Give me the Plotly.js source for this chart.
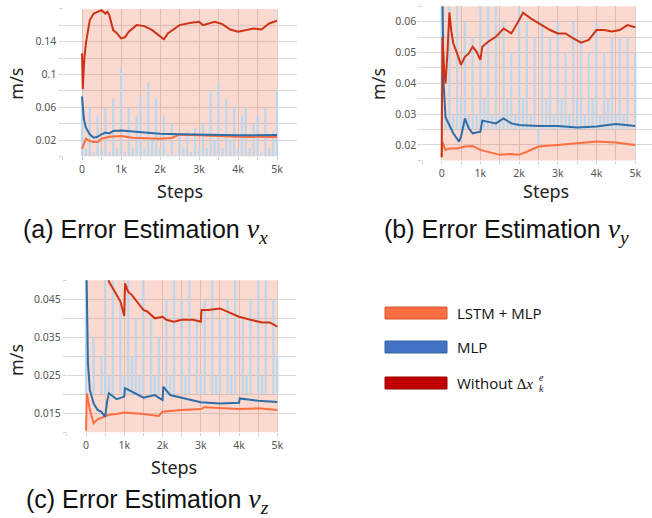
<!DOCTYPE html>
<html>
<head>
<meta charset="utf-8">
<script src="https://cdn.plot.ly/plotly-3.0.1.min.js"></script>
<style>html,body{margin:0;padding:0;background:#fff;}#chart{width:652px;height:518px;}</style>
</head>
<body>
<div id="chart"></div>
<script>
// ---------- data ----------
var seriesNames = ['LSTM + MLP', 'MLP', 'Without Δx'];
var xTickVals = [0, 1000, 2000, 3000, 4000, 5000];
var xTickText = ['0', '1k', '2k', '3k', '4k', '5k'];
var xGridVals = [-500, 500, 1500, 2500, 3500, 4500];

var aYTickVals = [0.02, 0.06, 0.1, 0.14];
var aYGridVals = [0, 0.04, 0.08, 0.12, 0.16, 0.18];
var bYTickVals = [0.02, 0.03, 0.04, 0.05, 0.06];
var bYGridVals = [0.015, 0.025, 0.035, 0.045, 0.055, 0.065];
var cYTickVals = [0.015, 0.025, 0.035, 0.045];
var cYGridVals = [0.01, 0.02, 0.03, 0.04, 0.05];

// raw (unsmoothed) envelope of the runs, shown as pale background
var rawSpanX = [0, 5000];
var aRawTop = [0.2, 0.2];
var bRawTop = [0.07, 0.07];
var cRawTop = [0.055, 0.055];

// raw MLP samples (pale blue streaks): bottom and top of each streak
var rawX = [0,100,200,300,400,500,600,700,800,900,1000,1100,1200,1300,1400,1500,1600,1700,1800,1900,2000,
            2100,2200,2300,2400,2500,2600,2700,2800,2900,3000,3100,3200,3300,3400,3500,3600,3700,3800,3900,4000,
            4100,4200,4300,4400,4500,4600,4700,4800,4900,5000];
var aMlpRawLow = 0;
var aMlpRaw = [0.07,0.01,0.06,0.005,0.05,0.01,0.06,0.005,0.07,0.01,0.11,0.005,0.06,0.01,0.05,0.075,0.01,0.09,0.02,0.07,0.01,
               0.05,0.003,0.04,0.002,0.03,0.01,0.03,0.005,0.035,0.01,0.04,0.01,0.08,0.02,0.09,0.01,0.07,0.02,0.06,0.01,
               0.05,0.06,0.01,0.04,0.05,0.005,0.06,0.01,0.03,0.08];
var bMlpRawLow = 0.025;
var bMlpRaw = [0.065,0.03,0.065,0.03,0.065,0.035,0.06,0.03,0.055,0.03,0.065,0.035,0.065,0.03,0.065,0.03,0.06,0.035,0.05,0.03,0.065,
               0.035,0.06,0.03,0.055,0.02,0.06,0.035,0.055,0.03,0.06,0.035,0.05,0.03,0.06,0.035,0.055,0.03,0.05,0.035,0.06,
               0.03,0.05,0.035,0.055,0.03,0.055,0.03,0.055,0.025,0.05];
var cMlpRawLow = 0.02;
var cMlpRaw = [0.05,0.02,0.035,0.02,0.03,0.05,0.025,0.05,0.02,0.045,0.025,0.05,0.03,0.04,0.025,0.05,0.02,0.04,0.025,0.035,0.02,
               0.045,0.025,0.05,0.02,0.045,0.025,0.05,0.02,0.04,0.025,0.045,0.02,0.05,0.025,0.04,0.02,0.045,0.025,0.05,0.02,
               0.04,0.025,0.045,0.02,0.05,0.025,0.05,0.02,0.045,0.03];

// (a) v_x smoothed curves
var aLstmX = [0,50,100,200,300,400,500,700,1000,1300,1600,2000,2300,2500,3000,3500,4000,5000];
var aLstm  = [0.009,0.0168,0.0216,0.0188,0.0176,0.0176,0.0216,0.024,0.0248,0.0228,0.022,0.0216,0.0224,0.0265,0.0257,0.0249,0.024,0.0236];
var aMlpX  = [0,50,100,200,300,400,500,600,700,800,1000,1200,1500,2000,2500,3000,4000,5000];
var aMlp   = [0.0733,0.045,0.035,0.027,0.0228,0.024,0.027,0.029,0.028,0.031,0.0317,0.031,0.0297,0.0277,0.027,0.0265,0.0257,0.026];
var aWoX   = [0,20,60,100,200,300,400,500,600,650,700,800,900,1000,1100,1200,1400,1600,1800,2000,2100,2200,2500,2800,3000,3100,3400,3600,3800,4000,4200,4400,4600,4700,4800,5000];
var aWo    = [0.126,0.082,0.12,0.138,0.1663,0.1743,0.1764,0.1784,0.1743,0.1764,0.1723,0.1541,0.1501,0.144,0.1453,0.1521,0.1602,0.159,0.1541,0.1461,0.1428,0.1501,0.1602,0.163,0.1642,0.1602,0.1642,0.1614,0.1549,0.1521,0.1541,0.1562,0.1549,0.1582,0.1622,0.1655];

// (b) v_y smoothed curves
var bLstmX = [0,20,50,100,200,400,600,800,1000,1200,1500,1800,2000,2200,2500,3000,3500,4000,4500,5000];
var bLstm  = [0.0162,0.021,0.02,0.0184,0.0189,0.0189,0.0195,0.0197,0.0184,0.0178,0.0168,0.0171,0.0168,0.0178,0.0195,0.02,0.0205,0.0211,0.0208,0.02];
var bMlpX  = [0,50,100,200,300,450,500,600,700,800,1000,1050,1200,1400,1600,1800,2000,2500,3000,3500,4000,4500,5000];
var bMlp   = [0.09,0.04,0.029,0.0265,0.0238,0.0211,0.0227,0.0286,0.0254,0.0238,0.0243,0.0279,0.0276,0.027,0.0286,0.027,0.0265,0.0262,0.0262,0.0257,0.026,0.0268,0.0262];
var bWoX   = [0,20,60,100,150,200,250,300,400,500,600,700,800,900,1000,1050,1200,1400,1600,1800,2000,2100,2300,2600,2800,3000,3200,3400,3600,3800,4000,4200,4400,4600,4800,5000];
var bWo    = [0.016,0.055,0.045,0.04,0.05,0.063,0.057,0.053,0.0497,0.046,0.0486,0.0497,0.0519,0.0503,0.0476,0.0519,0.0535,0.0551,0.0578,0.0562,0.0605,0.0629,0.0611,0.0589,0.0573,0.0562,0.0562,0.0546,0.0532,0.0541,0.0573,0.0573,0.0568,0.0573,0.0589,0.0582];

// (c) v_z smoothed curves
var cLstmX = [0,20,100,200,300,500,600,800,1000,1500,1900,2000,2500,3000,3100,4000,4500,5000];
var cLstm  = [0.0105,0.0202,0.0159,0.0124,0.0134,0.0141,0.0146,0.0148,0.0152,0.0148,0.0143,0.0154,0.0159,0.0161,0.0166,0.0161,0.0163,0.0159];
var cMlpX  = [0,20,50,100,200,300,400,500,550,600,700,800,1000,1020,1200,1500,1800,2000,2020,2200,2500,3000,3500,4000,4020,4500,5000];
var cMlp   = [0.06,0.045,0.0282,0.0211,0.0176,0.0159,0.0154,0.0141,0.018,0.0203,0.0194,0.0187,0.0194,0.0216,0.0207,0.0191,0.0198,0.0185,0.022,0.0198,0.0191,0.0179,0.0176,0.0178,0.0189,0.0183,0.018];
var cWoX   = [500,600,700,800,900,1000,1020,1100,1200,1400,1500,1600,1800,2000,2100,2300,2500,2800,3000,3020,3200,3500,3700,4000,4300,4600,4800,5000];
var cWo    = [0.056,0.0496,0.0479,0.0461,0.0444,0.0406,0.0492,0.047,0.0461,0.0435,0.0422,0.0418,0.04,0.0404,0.0396,0.0391,0.0396,0.0396,0.0391,0.0422,0.0422,0.0426,0.0418,0.0404,0.0396,0.0389,0.0389,0.0378];

// ---------- styles ----------
var colLstm = '#ff6e40';
var colMlp = '#2e6da6';
var colWo = '#cf3316';
var pinkFill = 'rgba(240,140,115,0.33)';
var blueRaw = 'rgba(180,215,238,0.9)';

// vertical streak segments built from the raw arrays
function streaks(xs, low, tops) {
  var sx = [], sy = [];
  for (var i = 0; i < xs.length; i++) {
    sx.push(xs[i], xs[i], null);
    sy.push(low, tops[i], null);
  }
  return {x: sx, y: sy};
}

function panelTraces(xa, ya, rawTop, rawLow, mlpRaw, lx, ly, mx, my, wx, wy) {
  var s = streaks(rawX, rawLow, mlpRaw);
  return [
    {x: rawSpanX, y: rawTop, xaxis: xa, yaxis: ya, type: 'scatter', mode: 'lines', fill: 'tozeroy',
     fillcolor: pinkFill, line: {width: 0, color: pinkFill}, hoverinfo: 'skip', showlegend: false},
    {x: s.x, y: s.y, xaxis: xa, yaxis: ya, type: 'scatter', mode: 'lines', connectgaps: false,
     line: {width: 2.2, color: blueRaw}, hoverinfo: 'skip', showlegend: false},
    {x: lx, y: ly, xaxis: xa, yaxis: ya, type: 'scatter', mode: 'lines', name: seriesNames[0],
     line: {width: 2, color: colLstm}, showlegend: false},
    {x: mx, y: my, xaxis: xa, yaxis: ya, type: 'scatter', mode: 'lines', name: seriesNames[1],
     line: {width: 2, color: colMlp}, showlegend: false},
    {x: wx, y: wy, xaxis: xa, yaxis: ya, type: 'scatter', mode: 'lines', name: seriesNames[2],
     line: {width: 2, color: colWo}, showlegend: false}
  ];
}

var data = [].concat(
  panelTraces('x', 'y', aRawTop, aMlpRawLow, aMlpRaw, aLstmX, aLstm, aMlpX, aMlp, aWoX, aWo),
  panelTraces('x2', 'y2', bRawTop, bMlpRawLow, bMlpRaw, bLstmX, bLstm, bMlpX, bMlp, bWoX, bWo),
  panelTraces('x3', 'y3', cRawTop, cMlpRawLow, cMlpRaw, cLstmX, cLstm, cMlpX, cMlp, cWoX, cWo)
);

var W = 652, H = 518;
function px(v) { return v / W; }
function py(v) { return 1 - v / H; }

var gridCol = '#d6d6d6';
var tickFont = {family: 'Noto Sans, sans-serif', size: 10.5, color: '#555'};
function axis(domain, range, anchor, tv, tt, gv) {
  return {domain: domain, range: range, anchor: anchor, tickmode: 'array', tickvals: tv, ticktext: tt,
    showgrid: true, gridcolor: gridCol, gridwidth: 1, zeroline: false, showline: false,
    ticks: 'outside', ticklen: 3, tickcolor: '#cfcfcf', tickfont: tickFont, fixedrange: true,
    minor: {tickmode: 'array', tickvals: gv, showgrid: true, gridcolor: gridCol, gridwidth: 1,
            ticks: 'outside', ticklen: 3, tickcolor: '#cfcfcf'}};
}

var titleFont = {family: 'Noto Sans, sans-serif', size: 18, color: '#222'};
var capFont = {family: 'Liberation Sans, Arial, sans-serif', size: 25, color: '#111'};
var legFont = {family: 'Open Sans, sans-serif', size: 15, color: '#111'};

function ann(text, x, y, font, opts) {
  var a = {text: text, xref: 'paper', yref: 'paper', x: px(x), y: py(y), showarrow: false, font: font,
           xanchor: 'center', yanchor: 'middle'};
  for (var k in (opts || {})) a[k] = opts[k];
  return a;
}

var mathV = function (sub) {
  return ' <span style="font-family:Liberation Serif,serif;font-size:28px"><i>v</i><sub><i>' + sub + '</i></sub></span>';
};

var annotations = [
  ann('m/s', 15.7, 84, titleFont, {textangle: -90}),
  ann('Steps', 180, 191, titleFont),
  ann('m/s', 378, 84, titleFont, {textangle: -90}),
  ann('Steps', 546, 191, titleFont),
  ann('m/s', 16, 360, titleFont, {textangle: -90}),
  ann('Steps', 173.5, 467, titleFont),
  ann('(a) Error Estimation' + mathV('x'), 21, 230, capFont, {xanchor: 'left'}),
  ann('(b) Error Estimation' + mathV('y'), 382, 230, capFont, {xanchor: 'left'}),
  ann('(c) Error Estimation' + mathV('z'), 24, 500, capFont, {xanchor: 'left'}),
  ann(seriesNames[0], 455, 313, legFont, {xanchor: 'left'}),
  ann(seriesNames[1], 455, 347, legFont, {xanchor: 'left'}),
  ann('Without <span style="font-family:Liberation Serif,serif">Δ<i>x</i></span>', 455, 383, legFont, {xanchor: 'left'}),
  ann('<i>e</i>', 537, 377, {family: 'Liberation Serif, serif', size: 10, color: '#111'}, {xanchor: 'left'}),
  ann('<i>k</i>', 537, 388, {family: 'Liberation Serif, serif', size: 10, color: '#111'}, {xanchor: 'left'})
];

function box(y0, color, line) {
  return {type: 'rect', xref: 'paper', yref: 'paper', x0: px(385), x1: px(447), y0: py(y0 + 12), y1: py(y0),
          fillcolor: color, line: {color: line, width: 1}};
}

var layout = {
  width: W, height: H, margin: {l: 0, r: 0, t: 0, b: 0}, paper_bgcolor: '#fff', plot_bgcolor: '#fff',
  showlegend: false,
  xaxis: axis([px(62.5), px(296.5)], [-500, 5500], 'y', xTickVals, xTickText, xGridVals),
  yaxis: axis([py(156.4), py(8.9)], [0, 0.18], 'x', aYTickVals, aYTickVals.map(String), aYGridVals),
  xaxis2: axis([px(422.3), 1], [-500, 5434], 'y2', xTickVals, xTickText, xGridVals),
  yaxis2: axis([py(160.4), py(6.3)], [0.015, 0.065], 'x2', bYTickVals, bYTickVals.map(String), bYGridVals),
  xaxis3: axis([px(66.9), px(296.4)], [-500, 5500], 'y3', xTickVals, xTickText, xGridVals),
  yaxis3: axis([py(432.3), py(280.3)], [0.01, 0.05], 'x3', cYTickVals, cYTickVals.map(String), cYGridVals),
  annotations: annotations,
  shapes: [box(307, colLstm, '#d9572f'), box(341, '#4472c4', '#35609f'), box(377, '#c00000', '#9a0000')]
};

Plotly.newPlot('chart', data, layout, {displayModeBar: false, staticPlot: true});
</script>
</body>
</html>
